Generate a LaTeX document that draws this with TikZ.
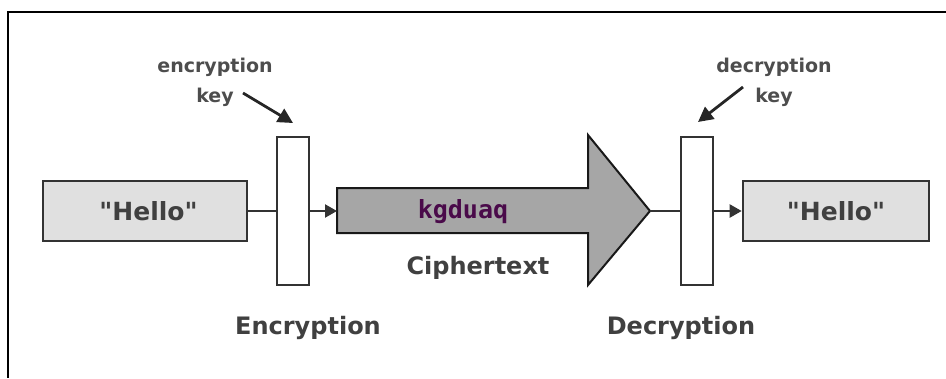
\documentclass[tikz,border=0pt]{standalone}
\usepackage{fontspec}
\setmainfont{DejaVu Sans}
\newfontfamily\monofnt{DejaVu Sans Mono}
\newfontfamily\qfnt{DejaVu Sans}[Ligatures=ResetAll]
\usetikzlibrary{arrows.meta}
\definecolor{boxline}{HTML}{333333}
\definecolor{boxfill}{HTML}{E0E0E0}
\definecolor{arrfill}{HTML}{A6A6A6}
\definecolor{txtgray}{HTML}{404040}
\definecolor{smallgray}{HTML}{4D4D4D}
\definecolor{cipher}{HTML}{4A0A4A}
\newcommand{\sq}{{\qfnt\bfseries"}}
\begin{document}
\begin{tikzpicture}[x=1pt,y=-1pt,
  msgbox/.style={draw=boxline, line width=2.6pt, fill=boxfill, inner sep=0pt,
    minimum height=60pt,
    font=\fontsize{25}{25}\selectfont\bfseries, text=txtgray},
  keybox/.style={draw=boxline, line width=2.6pt, fill=white, inner sep=0pt,
    minimum width=32pt, minimum height=148pt},
  biglabel/.style={font=\fontsize{24}{24}\selectfont\bfseries, text=txtgray, inner sep=0pt},
  smalllabel/.style={font=\fontsize{19}{30}\selectfont\bfseries, text=smallgray, inner sep=0pt, align=center},
  conn/.style={draw=boxline, line width=2.2pt},
  connarrow/.style={conn, -{Triangle[length=12pt,width=13pt]}},
  keyarrow/.style={draw=black!85, line width=2.8pt, -{Triangle[length=15pt,width=15pt]}}
]
\useasboundingbox (0,0) rectangle (946,378);
% frame
\draw[line width=2pt, black] (946,12) -- (8,12) -- (8,378);

% message boxes
\node[msgbox, minimum width=204pt] (h1) at (145,211) {\kern7pt\sq Hello\sq};
\node[msgbox, minimum width=186pt] (h2) at (836,211) {\sq Hello\sq};

% key boxes
\node[keybox] (k1) at (293,211) {};
\node[keybox] (k2) at (697,211) {};

% big ciphertext arrow
\coordinate (arrL) at (337,211);
\coordinate (arrT) at (650,211);
\draw[line width=2pt, draw=black!90, fill=arrfill, line join=miter]
  (337,188) -- (588,188) -- (588,135) -- (650,211) -- (588,285) -- (588,233) -- (337,233) -- cycle;
\node[font=\monofnt\fontsize{25}{25}\selectfont\bfseries, text=cipher, inner sep=0pt] (ct) at (463,212) {kgduaq};

% connectors
\draw[conn] (h1.east) -- (k1.west);
\draw[connarrow] (k1.east) -- (arrL);
\draw[conn] (arrT) -- (k2.west);
\draw[connarrow] (k2.east) -- (h2.west);

% labels
\node[biglabel] (cap) at (478,268) {Ciphertext};
\node[biglabel] (enc) at (308,328) {Encryption};
\node[biglabel] (dec) at (681,328) {Decryption};

\node[smalllabel, anchor=base] (ek1) at (215,72) {encryption};
\node[smalllabel, anchor=base] (ek2) at (215,102) {key};
\node[smalllabel, anchor=base] (dk1) at (774,72) {decryption};
\node[smalllabel, anchor=base] (dk2) at (774,102) {key};

% key arrows
\coordinate (ea1) at (243,93);
\coordinate (ea2) at (293,123);
\coordinate (da1) at (743,87);
\coordinate (da2) at (698,122);
\draw[keyarrow] (ea1) -- (ea2);
\draw[keyarrow] (da1) -- (da2);
\end{tikzpicture}
\end{document}
